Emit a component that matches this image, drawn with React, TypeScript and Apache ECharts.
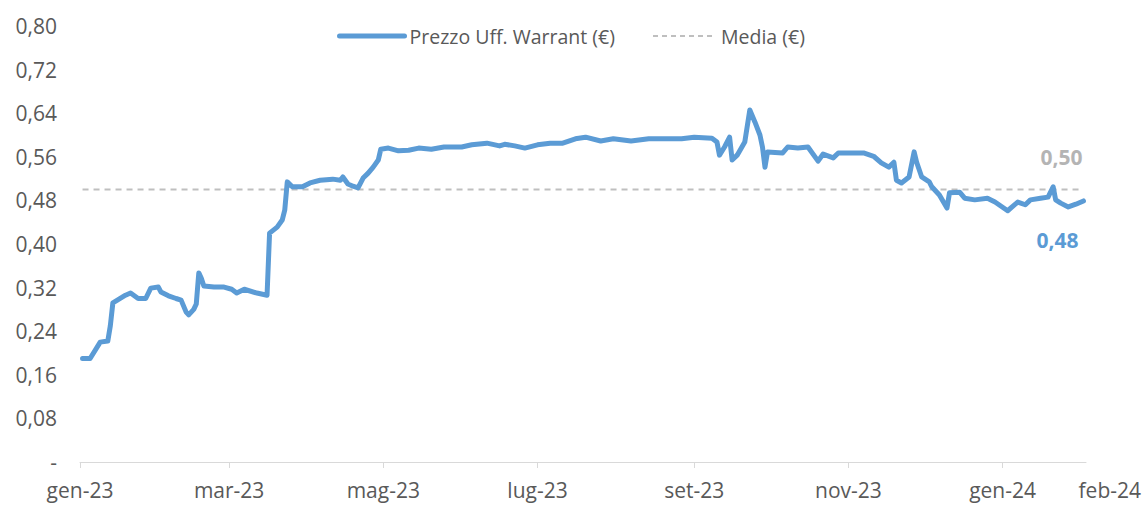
import React, { useEffect, useRef } from "react";
import * as echarts from "echarts";

const SERIES_NAME = "Prezzo Uff. Warrant (€)";
const MEDIA_NAME = "Media (€)";
const MEDIA_VALUE = 0.5;

const dates = [
  "2023-01-02", "2023-01-05", "2023-01-09", "2023-01-12", "2023-01-13", "2023-01-14",
  "2023-01-19", "2023-01-21", "2023-01-24", "2023-01-27", "2023-01-29", "2023-02-01",
  "2023-02-02", "2023-02-05", "2023-02-08", "2023-02-10", "2023-02-12", "2023-02-13",
  "2023-02-15", "2023-02-16", "2023-02-17", "2023-02-18", "2023-02-19", "2023-02-23",
  "2023-02-27", "2023-03-02", "2023-03-04", "2023-03-07", "2023-03-12", "2023-03-16",
  "2023-03-17", "2023-03-20", "2023-03-22", "2023-03-23", "2023-03-24", "2023-03-26",
  "2023-03-30", "2023-04-02", "2023-04-06", "2023-04-11", "2023-04-14", "2023-04-15",
  "2023-04-17", "2023-04-19", "2023-04-21", "2023-04-23", "2023-04-25", "2023-04-27",
  "2023-04-29", "2023-04-30", "2023-05-03", "2023-05-07", "2023-05-11", "2023-05-15",
  "2023-05-20", "2023-05-25", "2023-06-01", "2023-06-05", "2023-06-11", "2023-06-16",
  "2023-06-18", "2023-06-22", "2023-06-26", "2023-07-01", "2023-07-06", "2023-07-11",
  "2023-07-16", "2023-07-20", "2023-07-26", "2023-07-31", "2023-08-07", "2023-08-14",
  "2023-08-27", "2023-09-01", "2023-09-08", "2023-09-10", "2023-09-11", "2023-09-13",
  "2023-09-15", "2023-09-16", "2023-09-18", "2023-09-21", "2023-09-23", "2023-09-25",
  "2023-09-27", "2023-09-28", "2023-09-29", "2023-09-30", "2023-10-06", "2023-10-08",
  "2023-10-12", "2023-10-16", "2023-10-20", "2023-10-22", "2023-10-26", "2023-10-28",
  "2023-11-07", "2023-11-11", "2023-11-14", "2023-11-17", "2023-11-19", "2023-11-20",
  "2023-11-22", "2023-11-25", "2023-11-27", "2023-11-28", "2023-11-30", "2023-12-03",
  "2023-12-04", "2023-12-07", "2023-12-10", "2023-12-11", "2023-12-15", "2023-12-17",
  "2023-12-21", "2023-12-26", "2023-12-29", "2024-01-03", "2024-01-07", "2024-01-10",
  "2024-01-12", "2024-01-16", "2024-01-19", "2024-01-21", "2024-01-22", "2024-01-24",
  "2024-01-27", "2024-01-30", "2024-02-02",
];

const prices = [
  0.19, 0.19, 0.22, 0.222, 0.25, 0.292,
  0.306, 0.31, 0.3, 0.3, 0.319, 0.321,
  0.312, 0.305, 0.3, 0.297, 0.275, 0.27,
  0.28, 0.29, 0.347, 0.337, 0.323, 0.321,
  0.321, 0.317, 0.31, 0.317, 0.31, 0.306,
  0.42, 0.431, 0.444, 0.462, 0.514, 0.505,
  0.505, 0.512, 0.517, 0.519, 0.517, 0.523,
  0.51, 0.506, 0.503, 0.521, 0.53, 0.541,
  0.554, 0.574, 0.576, 0.571, 0.572, 0.576,
  0.574, 0.578, 0.578, 0.582, 0.585, 0.58,
  0.583, 0.58, 0.576, 0.582, 0.585, 0.585,
  0.593, 0.596, 0.589, 0.593, 0.589, 0.593,
  0.593, 0.596, 0.594, 0.587, 0.563, 0.578,
  0.596, 0.554, 0.563, 0.587, 0.646, 0.624,
  0.6, 0.578, 0.541, 0.569, 0.567, 0.578,
  0.576, 0.578, 0.552, 0.565, 0.558, 0.567,
  0.567, 0.561, 0.549, 0.541, 0.55, 0.517,
  0.512, 0.523, 0.569, 0.55, 0.523, 0.514,
  0.505, 0.49, 0.466, 0.494, 0.495, 0.484,
  0.481, 0.484, 0.477, 0.461, 0.477, 0.472,
  0.481, 0.484, 0.486, 0.505, 0.481, 0.475,
  0.468, 0.473, 0.479,
];

const tickDates = ["2023-01-01", "2023-03-01", "2023-05-01", "2023-07-01", "2023-09-01", "2023-11-01", "2024-01-01"];
const tickLabels = ["gen-23", "mar-23", "mag-23", "lug-23", "set-23", "nov-23", "gen-24"];
const endTickLabel = "feb-24";
const axisStartDate = "2023-01-01";
const axisEndDate = "2024-02-03";

const Y_MIN = 0;
const Y_MAX = 0.8;
const Y_STEP = 0.08;

const dayOf = (s: string) =>
  (Date.UTC(+s.slice(0, 4), +s.slice(5, 7) - 1, +s.slice(8, 10)) -
    Date.UTC(+axisStartDate.slice(0, 4), +axisStartDate.slice(5, 7) - 1, +axisStartDate.slice(8, 10))) /
  86400000;

const fmt = (v: number) => (Math.round(v * 100) / 100).toFixed(2).replace(".", ",");

const FONT = "'Open Sans', 'Noto Sans', sans-serif";
const BLUE = "#5B9BD5";
const GRAY_DASH = "#BFBFBF";
const TEXT = "#595959";

export default function App() {
  const ref = useRef<HTMLDivElement>(null);
  useEffect(() => {
    if (!ref.current) return;
    const chart = echarts.init(ref.current, null, { renderer: "svg" });
    const data = dates.map((d, i) => [dayOf(d), prices[i]]);
    const firstDay = dayOf(dates[0]);
    const lastDay = dayOf(dates[dates.length - 1]);
    const lastVal = prices[prices.length - 1];
    const tickDays = tickDates.map(dayOf);
    const labelOf: Record<number, string> = {};
    tickDays.forEach((d, i) => (labelOf[d] = tickLabels[i]));

    chart.setOption({
      animation: false,
      textStyle: { fontFamily: FONT },
      grid: { left: 80, right: 58, top: 26, bottom: 43, containLabel: false },
      legend: [
        {
          data: [SERIES_NAME],
          left: 337,
          top: 26,
          padding: 0,
          itemWidth: 65,
          itemHeight: 12,
          itemGap: 0,
          itemStyle: { opacity: 0 },
          lineStyle: { width: 5, cap: "round" },
          textStyle: { color: TEXT, fontSize: 19.5, fontFamily: FONT },
        },
        {
          data: [MEDIA_NAME],
          left: 652,
          top: 26,
          padding: 0,
          itemWidth: 63,
          itemHeight: 12,
          itemStyle: { opacity: 0 },
          lineStyle: { width: 2, type: [5, 4] },
          textStyle: { color: TEXT, fontSize: 19.5, fontFamily: FONT },
        },
      ],
      xAxis: {
        type: "value",
        min: dayOf(axisStartDate),
        max: dayOf(axisEndDate),
        axisLine: { show: true, lineStyle: { color: "#D9D9D9", width: 1 } },
        axisTick: { show: true, customValues: tickDays, length: 6, lineStyle: { color: "#D9D9D9" } },
        axisLabel: {
          show: true,
          customValues: tickDays,
          formatter: (v: number) => labelOf[v] ?? "",
          color: TEXT,
          fontSize: 21,
          margin: 17,
          fontFamily: FONT,
        },
        splitLine: { show: false },
      },
      yAxis: {
        type: "value",
        min: Y_MIN,
        max: Y_MAX,
        interval: Y_STEP,
        axisLine: { show: false },
        axisTick: { show: false },
        splitLine: { show: false },
        axisLabel: {
          color: TEXT,
          fontSize: 21,
          margin: 23,
          fontFamily: FONT,
          formatter: (v: number) => (Math.abs(v) < 1e-9 ? "-" : fmt(v)),
        },
      },
      graphic: [
        {
          type: "text",
          right: 3,
          top: 479,
          style: { text: endTickLabel, fill: TEXT, fontSize: 21, fontFamily: FONT },
        },
      ],
      series: [
        {
          name: SERIES_NAME,
          type: "line",
          data,
          symbol: "none",
          showSymbol: false,
          z: 3,
          lineStyle: { color: BLUE, width: 5, join: "round", cap: "round" },
          itemStyle: { color: BLUE },
          markPoint: {
            symbol: "circle",
            symbolSize: 0,
            silent: true,
            data: [{ coord: [lastDay, lastVal], value: lastVal }],
            label: {
              show: true,
              formatter: (p: any) => fmt(p.value),
              color: BLUE,
              fontSize: 21,
              fontWeight: "bold",
              fontFamily: FONT,
              offset: [-26, 39],
            },
          },
        },
        {
          name: MEDIA_NAME,
          type: "line",
          data: [
            [firstDay, MEDIA_VALUE],
            [lastDay, MEDIA_VALUE],
          ],
          symbol: "none",
          showSymbol: false,
          z: 2,
          lineStyle: { color: GRAY_DASH, width: 2, type: [6, 5] },
          itemStyle: { color: GRAY_DASH },
          markPoint: {
            symbol: "circle",
            symbolSize: 0,
            silent: true,
            data: [{ coord: [lastDay, MEDIA_VALUE], value: MEDIA_VALUE }],
            label: {
              show: true,
              formatter: (p: any) => fmt(p.value),
              color: "#B4B4B4",
              fontSize: 21,
              fontWeight: "bold",
              fontFamily: FONT,
              offset: [-22, -33],
            },
          },
        },
      ],
    });
    return () => chart.dispose();
  }, []);
  return (
    <div
      ref={ref}
      style={{ position: "fixed", left: 0, top: 0, width: 1144, height: 505, background: "#fff" }}
    />
  );
}
